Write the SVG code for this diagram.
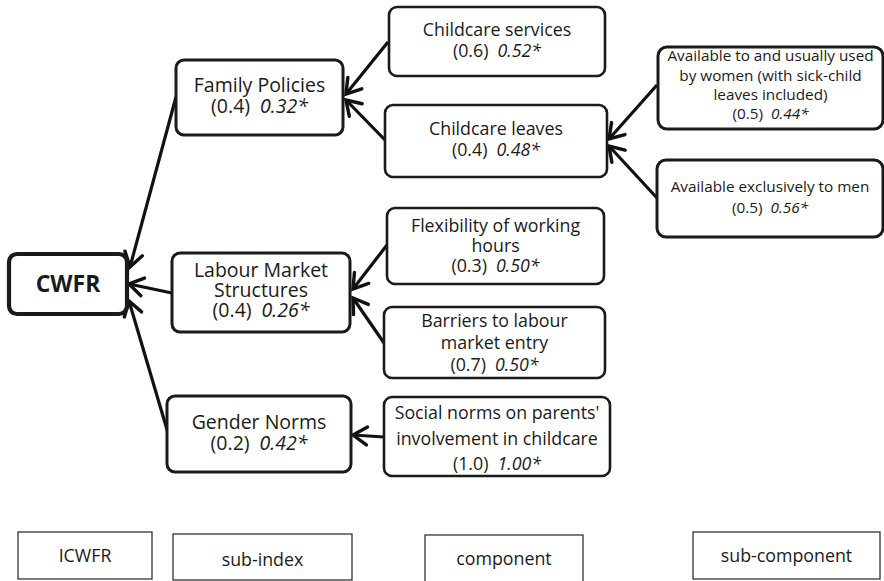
<svg xmlns="http://www.w3.org/2000/svg" width="884" height="581" viewBox="0 0 884 581">
<style>
  .box{fill:#fff;stroke:#1a1a1a;stroke-width:3}
  .legend{fill:#fff;stroke:#333;stroke-width:1.3}
  text{font-family:"Open Sans","Liberation Sans",sans-serif;fill:#1a1a1a;text-anchor:middle}
  .s20{font-size:19.5px}
  .s18{font-size:17.8px}
  .s15{font-size:15.3px}
  .it{font-style:italic}
  .conn{stroke:#111;stroke-width:3.2;fill:none}
</style>
<defs>
  <marker id="arr" markerUnits="userSpaceOnUse" markerWidth="24" markerHeight="24" viewBox="-18 -12 24 24" refX="0" refY="0" orient="auto">
    <path d="M-14,-9 L0,0 L-14,9" fill="none" stroke="#111" stroke-width="3.4" stroke-linecap="round" stroke-linejoin="miter"/>
  </marker>
</defs>
<rect width="884" height="581" fill="#fff"/>
<g id="connectors">
  <line class="conn" x1="176" y1="97" x2="130" y2="267" marker-end="url(#arr)"/>
  <line class="conn" x1="172" y1="293" x2="129" y2="284" marker-end="url(#arr)"/>
  <line class="conn" x1="168" y1="433" x2="129" y2="301" marker-end="url(#arr)"/>
  <line class="conn" x1="388" y1="42" x2="346" y2="94" marker-end="url(#arr)"/>
  <line class="conn" x1="385" y1="140" x2="346" y2="100" marker-end="url(#arr)"/>
  <line class="conn" x1="657" y1="85" x2="609" y2="139" marker-end="url(#arr)"/>
  <line class="conn" x1="657" y1="198" x2="609" y2="146" marker-end="url(#arr)"/>
  <line class="conn" x1="387" y1="245" x2="353" y2="289" marker-end="url(#arr)"/>
  <line class="conn" x1="384" y1="343" x2="353" y2="298" marker-end="url(#arr)"/>
  <line class="conn" x1="384" y1="437" x2="353" y2="435" marker-end="url(#arr)"/>
</g>
<g id="cwfr">
  <rect class="box" x="9" y="254" width="118" height="60" rx="8" style="stroke-width:4.2"/>
  <text x="68" y="292" style="font-size:23px;font-weight:bold">CWFR</text>
</g>
<g id="family-policies">
  <rect class="box" x="176" y="60" width="167" height="75" rx="8"/>
  <text class="s20" x="259.5" y="92">Family Policies</text>
  <text class="s20" x="259.5" y="113">(0.4)<tspan class="it" dx="10">0.32*</tspan></text>
</g>
<g id="labour-market">
  <rect class="box" x="172" y="253" width="178" height="79" rx="8"/>
  <text class="s20" x="261" y="277">Labour Market</text>
  <text class="s20" x="261" y="297">Structures</text>
  <text class="s20" x="261" y="317">(0.4)<tspan class="it" dx="10">0.26*</tspan></text>
</g>
<g id="gender-norms">
  <rect class="box" x="167" y="396" width="184" height="76" rx="8"/>
  <text class="s20" x="259" y="429">Gender Norms</text>
  <text class="s20" x="259" y="450">(0.2)<tspan class="it" dx="10">0.42*</tspan></text>
</g>
<g id="childcare-services">
  <rect class="box" x="389" y="7" width="216" height="69" rx="8" style="stroke-width:2.6"/>
  <text class="s18" x="497" y="36">Childcare services</text>
  <text class="s18" x="497" y="57">(0.6)<tspan class="it" dx="9">0.52*</tspan></text>
</g>
<g id="childcare-leaves">
  <rect class="box" x="385" y="105" width="222" height="72" rx="8" style="stroke-width:2.6"/>
  <text class="s18" x="496" y="135">Childcare leaves</text>
  <text class="s18" x="496" y="156">(0.4)<tspan class="it" dx="9">0.48*</tspan></text>
</g>
<g id="flexibility">
  <rect class="box" x="387" y="208" width="217" height="76" rx="8" style="stroke-width:2.6"/>
  <text class="s18" x="495.5" y="232">Flexibility of working</text>
  <text class="s18" x="495.5" y="252">hours</text>
  <text class="s18" x="495.5" y="272">(0.3)<tspan class="it" dx="9">0.50*</tspan></text>
</g>
<g id="barriers">
  <rect class="box" x="384" y="307" width="221" height="71" rx="8" style="stroke-width:2.6"/>
  <text class="s18" x="494.5" y="327">Barriers to labour</text>
  <text class="s18" x="494.5" y="349">market entry</text>
  <text class="s18" x="494.5" y="371">(0.7)<tspan class="it" dx="9">0.50*</tspan></text>
</g>
<g id="social-norms">
  <rect class="box" x="384" y="397" width="226" height="79" rx="8" style="stroke-width:2.6"/>
  <text class="s18" x="497" y="419">Social norms on parents'</text>
  <text class="s18" x="497" y="445">involvement in childcare</text>
  <text class="s18" x="497" y="470">(1.0)<tspan class="it" dx="9">1.00*</tspan></text>
</g>
<g id="available-women">
  <rect class="box" x="658" y="47" width="225" height="82" rx="9"/>
  <text class="s15" x="770.5" y="61">Available to and usually used</text>
  <text class="s15" x="770.5" y="81">by women (with sick-child</text>
  <text class="s15" x="770.5" y="100">leaves included)</text>
  <text class="s15" x="770.5" y="119">(0.5)<tspan class="it" dx="8">0.44*</tspan></text>
</g>
<g id="available-men">
  <rect class="box" x="657" y="160" width="226" height="77" rx="9"/>
  <text class="s15" x="770" y="192">Available exclusively to men</text>
  <text class="s15" x="770" y="213">(0.5)<tspan class="it" dx="8">0.56*</tspan></text>
</g>
<g id="legend-icwfr">
  <rect class="legend" x="18" y="532" width="134" height="47"/>
  <text class="s18" x="85" y="562">ICWFR</text>
</g>
<g id="legend-subindex">
  <rect class="legend" x="173" y="534" width="179" height="46"/>
  <text class="s18" x="262.5" y="566">sub-index</text>
</g>
<g id="legend-component">
  <rect class="legend" x="425" y="535" width="158" height="50"/>
  <text class="s18" x="504" y="565">component</text>
</g>
<g id="legend-subcomponent">
  <rect class="legend" x="693" y="532" width="187" height="47"/>
  <text class="s18" x="786.5" y="562">sub-component</text>
</g>
</svg>
